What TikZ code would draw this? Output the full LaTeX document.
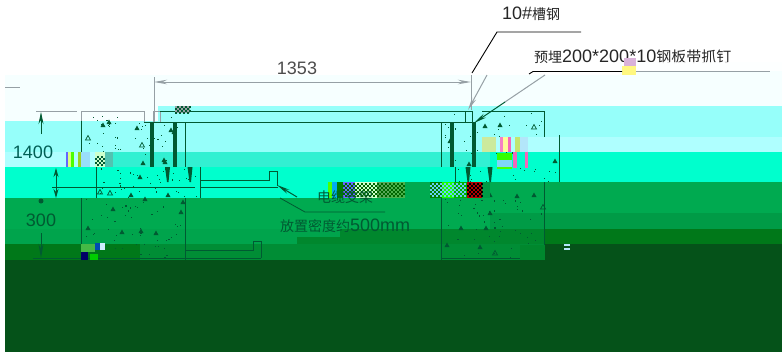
\documentclass[tikz,border=0pt]{standalone}
\usepackage{fontspec}
\setmainfont{Liberation Sans}
\newfontfamily\cjk{Noto Sans CJK SC}
\usetikzlibrary{arrows.meta}
\definecolor{tint}{RGB}{246,255,255}
\definecolor{cy}{RGB}{150,255,250}
\definecolor{cyl}{RGB}{175,255,255}
\definecolor{spring}{RGB}{0,255,205}
\definecolor{teal2}{RGB}{50,240,210}
\definecolor{ga}{RGB}{0,170,80}
\definecolor{gb}{RGB}{0,155,70}
\definecolor{gc}{RGB}{0,120,25}
\definecolor{gd}{RGB}{0,135,45}
\definecolor{dk}{RGB}{5,82,25}
\definecolor{ink}{RGB}{0,95,85}
\definecolor{gry}{RGB}{150,160,165}
\definecolor{bolt}{RGB}{0,90,50}
\newcommand{\band}[5]{\fill[#5] (#1,#2) rectangle (#3,#4);}
\newcommand{\tri}[2]{\fill[bolt] (#1-2.5,#2+2)--(#1+2.5,#2+2)--(#1,#2-2.5)--cycle;}
\newcommand{\otri}[2]{\draw[bolt,line width=.7pt] (#1-2.5,#2+2)--(#1+2.5,#2+2)--(#1,#2-2.5)--cycle;}
\newcommand{\specks}[5]{\foreach \i in {1,...,#5}{\pgfmathsetmacro\sx{#1+rnd*(#3-#1)}\pgfmathsetmacro\sy{#2+rnd*(#4-#2)}\fill[bolt] (\sx,\sy) rectangle ++(1.1,1.1);}}
\newcommand{\checker}[5]{\pgfmathtruncatemacro\nx{(#3-#1)/2}\pgfmathtruncatemacro\ny{(#4-#2)/2}\foreach \ci in {0,...,\nx}{\foreach \cj in {0,...,\ny}{\pgfmathtruncatemacro\cm{mod(\ci+\cj,2)}\ifnum\cm>0 \fill[#5] (#1+2*\ci,#2+2*\cj) rectangle ++(2,2);\fi}}}
\tikzset{
  txt/.style={inner sep=0pt,font=\fontsize{18}{18}\selectfont},
  cjktxt/.style={inner sep=0pt,font=\cjk\fontsize{14}{14}\selectfont},
  wall/.style={draw=#1,line width=.9pt},
  wall/.default=bolt,
  leader/.style={line width=.9pt,draw=black},
  gleader/.style={line width=1pt,draw=gry},
  dimen/.style={line width=1pt,draw=gry},
  tip/.style={-{Stealth[length=13pt,width=4.5pt]}},
}
\begin{document}
\begin{tikzpicture}[x=1pt,y=-1pt]
\useasboundingbox (0,0) rectangle (782,354);
\fill[white] (0,0) rectangle (782,354);
% colour bands of the picture
\band{5}{75}{782}{121}{tint}
\band{620}{62}{782}{75}{tint}
\band{158}{106}{490}{121}{cy}
\band{490}{106}{782}{137}{cy}
\band{490}{137}{782}{152}{cyl}
\band{5}{121}{490}{152}{cy}
\band{5}{152}{113}{167}{cyl}
\band{113}{152}{490}{167}{teal2}
\band{490}{152}{782}{182}{spring}
\band{5}{167}{490}{198}{spring}
\band{490}{182}{782}{213}{ga}
\band{490}{213}{782}{229}{gb}
\band{5}{198}{490}{229}{ga}
\band{5}{229}{544}{244}{ga!60!gb}
\band{340}{229}{544}{237}{gd}
\band{297}{237}{544}{244}{gd}
\band{544}{229}{782}{244}{gc}
\band{490}{229}{544}{244}{gd}
\band{5}{244}{140}{260}{gc}
\band{140}{244}{544}{260}{gd!70!gb}
\band{5}{260}{782}{352}{dk}
\band{544}{244}{782}{260}{dk}
% speckled concrete
\pgfmathsetseed{11}
\specks{85}{113}{183}{165}{45}
\specks{100}{168}{198}{197}{40}
\specks{84}{199}{183}{258}{50}
\specks{444}{113}{542}{165}{40}
\specks{458}{168}{556}{181}{20}
\specks{444}{199}{542}{258}{50}
\foreach \x/\y in {103/125,109/122,137/128,143/163,164/160,171/130,140/177,131/195,168/195,145/199,113/209,88/228,122/232,141/231,156/233,181/212,183/202,165/162,174/132,450/141,485/126,500/125,469/164,555/161,490/195,517/196,534/195,490/213,461/228,486/228,447/245,480/247}{\tri{\x}{\y}}
\foreach \x/\y in {88/138,142/145,100/192,110/193,534/127,543/207,495/253}{\otri{\x}{\y}}
% walls
\draw[gry,line width=1pt] (81,111)--(144,111)--(144,122);
\draw[wall] (81,121)--(81,167);
\draw[gry,line width=1pt] (81,111)--(81,121);
\draw[wall] (96,167)--(96,198);
\draw[wall] (81,198)--(81,260);
\draw[wall] (185,123)--(185,167);
\draw[wall] (200,167)--(200,198);
\draw[wall] (185,198)--(185,260);
\draw[wall] (144,122)--(475,122);
\draw[wall=gry] (153,122)--(153,111)--(160,111)--(160,122);
\draw[wall] (160,111)--(465,111);
\fill[gry] (175,106) rectangle (190,113);
\checker{175}{106}{189}{112}{bolt}
\draw[wall] (465,122)--(465,111)--(472,111)--(472,122);
\draw[wall] (482,111)--(544,111)--(544,137);
\draw[wall] (441,122)--(441,167);
\draw[wall] (455,167)--(455,182);
\draw[wall] (441,182)--(441,260);
\draw[wall] (559,135)--(559,182);
\draw[wall] (544,182)--(544,260);
\draw[wall] (81,258)--(185,258);
\draw[wall] (441,258)--(544,258);
% anchor bolts
\foreach \x in {152,175,452,474}{\draw[bolt,line width=3.4pt] (\x,122)--(\x,167);}
\foreach \x in {167.5,190,468,490}{\fill[bolt] (\x-2.5,167)--(\x+2.5,167)--(\x+1,182)--(\x-.5,182)--cycle;}
% cable bracket
\draw[wall] (52,187)--(195,187);
\draw[wall] (201,187)--(278,187);
\draw[wall] (201,180)--(269,180)--(269,171)--(277,171)--(277,186);
\draw[wall] (185,250)--(253,250)--(253,241)--(261,241)--(261,258);
\draw[wall] (185,258)--(261,258);
% patches
\foreach \x/\w/\c in {66/2/{blue!60!white},68/3/{green!30!yellow!50!white},71/3/{green!70!yellow},74/4/cyl,78/3/{yellow!60!green},81/9/{cyan!40!white},90/5/cyl,95/10/{green!20!white},105/8/{teal2!60!gray}}{\fill[\c] (\x,152) rectangle ++(\w,15);}
\checker{95}{156}{104}{165}{bolt}
\foreach \x/\w/\c in {482/14/{yellow!50!green!40!white},496/4/cyl,500/3/{magenta!50!white},503/5/{yellow!40!white},508/3/{magenta!60!white},511/4/cyl,515/5/{yellow!60!green!60!white},520/8/{cyan!30!white},528/25/cyl}{\fill[\c] (\x,137) rectangle ++(\w,15);}
\fill[green!80!yellow] (497,153) rectangle (512,160);
\fill[cyan!50!white] (497,160) rectangle (512,167);
\fill[green!70!yellow] (497,167) rectangle (512,169);
\fill[magenta!60!white] (513,152) rectangle (517,168);
\fill[magenta!60!white] (525,152) rectangle (528,168);
\foreach \x/\w/\c in {328/4/{green!70!yellow},332/5/cyan,337/6/{green!50!black},343/12/{blue!60!white},355/22/{green!20!white},377/13/{green!30!gray},390/15/{green!40!gray},405/25/ga,430/12/{green!50!black},442/12/{green!90!yellow},454/13/{green!70!black},467/15/{red!70!black},482/8/gb}{\fill[\c] (\x,182) rectangle ++(\w,16);}
\checker{343}{183}{403}{196}{black!60!green}
\checker{430}{183}{465}{196}{cyan!60!white}
\checker{467}{183}{481}{196}{black}
\fill[green!45!gray] (81,244) rectangle (95,252);
\fill[blue!40!teal] (95,243) rectangle (100,250);
\fill[cyan!20!white] (100,243) rectangle (105,250);
\fill[blue!40!black] (81,252) rectangle (88,260);
\fill[green!80!black] (90,254) rectangle (98,260);
\fill[gd] (520,245) rectangle (545,260);
\fill[cyan!30!white] (564,244) rectangle (570,246);
\fill[cyan!30!white] (564,248) rectangle (570,250);
% labels
\node[txt,text=black!70] (dim) at (297,68) {1353};
\node[txt,anchor=west,text=black!85] (ch) at (502,14) {10\#{\cjk\fontsize{14}{14}\selectfont 槽钢}};
\node[txt,anchor=west,text=black!85] (pl) at (534,57) {{\cjk\fontsize{14}{14}\selectfont 预埋}200*200*10{\cjk\fontsize{15}{15}\selectfont 钢板带抓钉}};
\fill[white,opacity=.82] (622,62) rectangle (782,71);
\node[txt,text=ink] (a) at (33,152) {1400};
\node[txt,text=bolt] (b) at (41,220) {300};
\node[cjktxt,text=bolt] (c) at (345,197) {电缆支架};
\node[txt,anchor=west,text=bolt] (d) at (280,226) {{\cjk\fontsize{14}{14}\selectfont 放置密度约}500mm};
\fill[yellow!50!white] (622,66) rectangle (636,75);
\fill[violet!30!white] (624,58) rectangle (636,66);
% dimension lines
\coordinate (e1) at (154,77); \coordinate (e2) at (154,122);
\coordinate (e3) at (471,75); \coordinate (e4) at (471,110);
\coordinate (d1) at (154,82); \coordinate (d2) at (471,82);
\draw[dimen] (e1)--(e2);
\draw[dimen] (e3)--(e4);
\draw[dimen,{Stealth[length=13pt,width=4.5pt]}-{Stealth[length=13pt,width=4.5pt]}] (d1)--(d2);
\draw[dimen] (5,87)--(20,87);
\draw[dimen] (36,111)--(77,111);
\draw[bolt,line width=.9pt,-{Stealth[length=12pt,width=5pt]}] (41,134)--(41,112);
\draw[bolt,line width=.9pt,{Stealth[length=9pt,width=5pt]}-{Stealth[length=9pt,width=5pt]}] (56,168)--(56,198);
\fill[bolt] (41,201) circle (2.5);
\draw[bolt,line width=.9pt,-{Stealth[length=14pt,width=5pt]}] (41,233)--(41,258);
\draw[bolt,line width=.8pt] (33,258)--(81,258);
% leaders
\coordinate (l1) at (581,32); \coordinate (l2) at (497,32); \coordinate (l3) at (472,73);
\draw[leader] (l1)--(l2)--(l3);
\coordinate (l4) at (487,75); \coordinate (l5) at (468,110);
\draw[gleader,tip] (l4)--(l5);
\coordinate (m1) at (622,71.5); \coordinate (m2) at (533,71.5); \coordinate (m3) at (529,74);
\draw[leader] (m1)--(m2)--(m3);
\draw[gleader] (636,71.5)--(770,71.5);
\coordinate (m4) at (545,75); \coordinate (m5) at (505,102); \coordinate (m6) at (474,123);
\draw[gleader] (m4)--(m5);
\draw[bolt,line width=1pt,tip] (m5)--(m6);
\coordinate (n1) at (297,197); \coordinate (n2) at (277,185);
\draw[bolt,line width=1pt,tip] (n1)--(n2);
\draw[bolt,line width=.8pt] (280,198)--(305,212)--(385,212);
\end{tikzpicture}
\end{document}
